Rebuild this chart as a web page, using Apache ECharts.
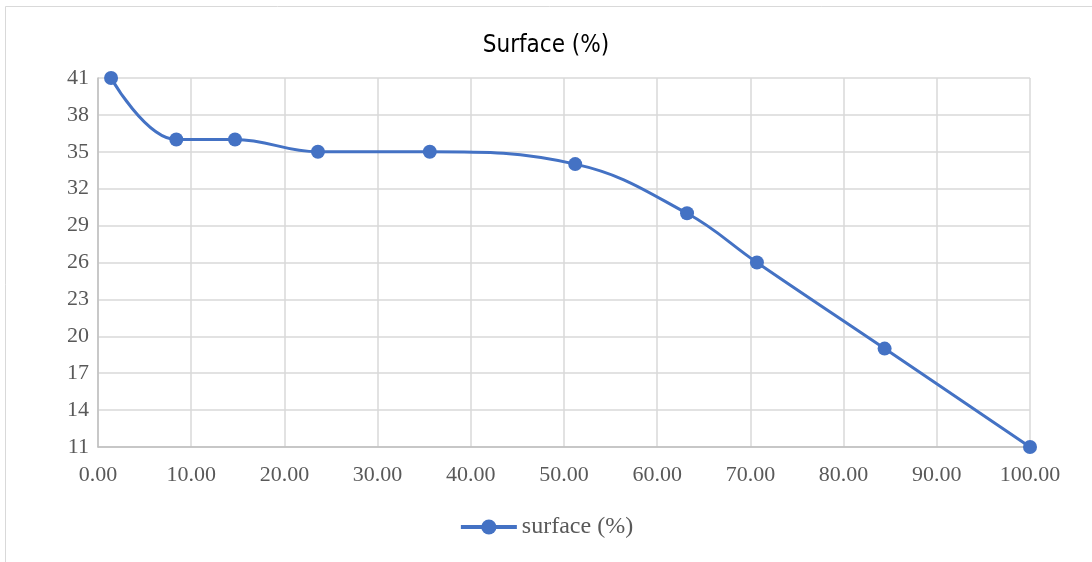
<!DOCTYPE html>
<html><head><meta charset="utf-8">
<script src="https://cdn.jsdelivr.net/npm/echarts@6/dist/echarts.min.js"></script>
<style>html,body{margin:0;padding:0;background:#fff}#c{width:1092px;height:562px}</style>
</head><body><div id="c"></div>
<script>
const xValues = [1.4, 8.4, 14.7, 23.6, 35.6, 51.2, 63.2, 70.7, 84.4, 100];
const yValues = [41, 36, 36, 35, 35, 34, 30, 26, 19, 11];
const seriesName = 'surface (%)';
const titleText = 'Surface (%)';

const chart = echarts.init(document.getElementById('c'));
chart.setOption({
  animation: false,
  backgroundColor: '#fff',
  graphic: [{type:'rect', shape:{x:5.5,y:6.5,width:1100,height:600}, style:{fill:'none',stroke:'#d9d9d9',lineWidth:1}, silent:true}],
  title: {text: titleText, left: 'center', top: 29, textStyle:{fontFamily:'DejaVu Sans Condensed', fontWeight:'normal', fontSize:24, color:'#000'}},
  grid: {left: 98, right: 62, top: 78, bottom: 115},
  legend: {bottom: 18, left: 'center', itemWidth: 56, itemHeight: 19, itemGap: 4,
    lineStyle:{width:4},
    textStyle:{fontFamily:'Liberation Serif', fontSize:24, color:'#595959'}, data:[seriesName]},
  xAxis: {type:'value', min:0, max:100, interval:10,
    axisLine:{show:true, lineStyle:{color:'#bfbfbf', width:1.5}}, axisTick:{show:false},
    splitLine:{show:true, lineStyle:{color:'#d9d9d9', width:1.5}},
    axisLabel:{formatter:v=>v.toFixed(2), fontFamily:'Liberation Serif', fontSize:22, color:'#595959', margin:17}},
  yAxis: {type:'value', min:11, max:41, interval:3,
    axisLine:{show:true, lineStyle:{color:'#bfbfbf', width:1.5}}, axisTick:{show:false},
    splitLine:{show:true, lineStyle:{color:'#d9d9d9', width:1.5}},
    axisLabel:{fontFamily:'Liberation Serif', fontSize:22, color:'#595959', margin:9}},
  series: [{name: seriesName, type:'line', smooth:0.4, data: xValues.map((x,i)=>[x,yValues[i]]),
    symbol:'circle', symbolSize:14, lineStyle:{color:'#4472c4', width:3}, itemStyle:{color:'#4472c4'}}]
});
</script></body></html>
